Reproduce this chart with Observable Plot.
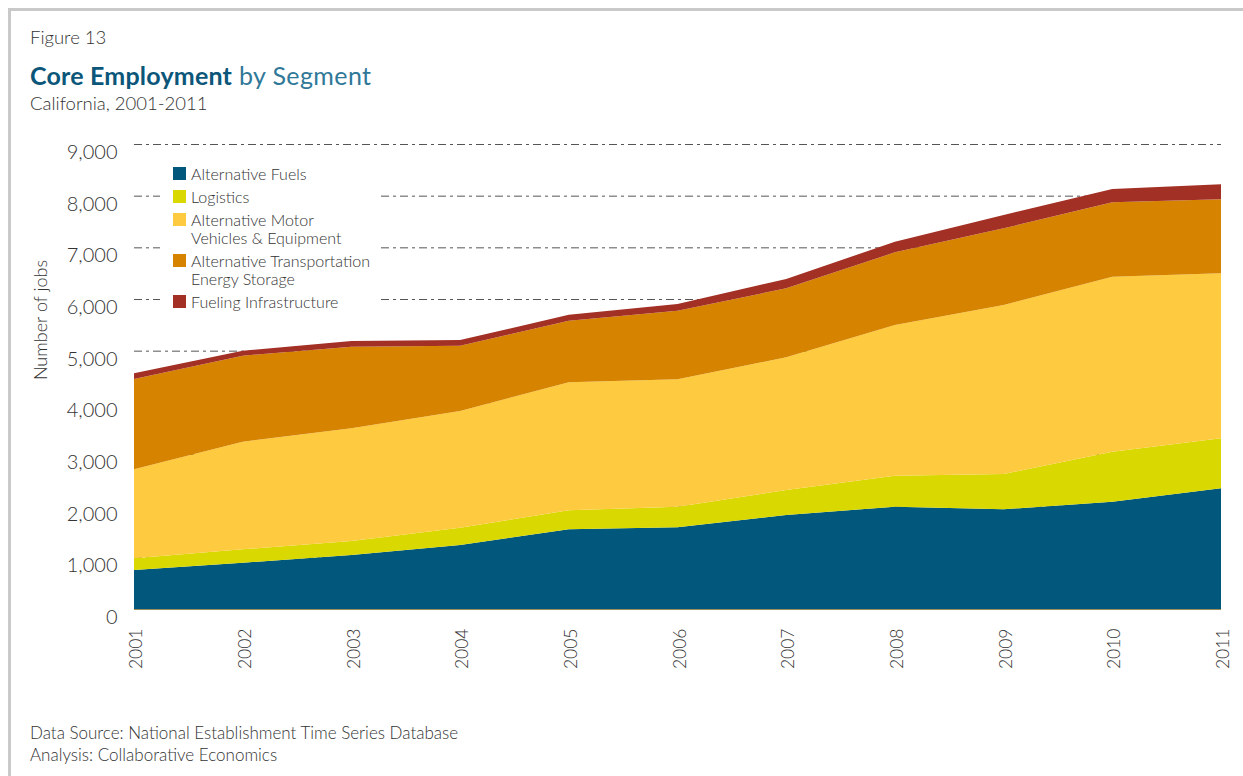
<!DOCTYPE html>
<html>
<head>
<meta charset="utf-8">
<script src="https://cdn.jsdelivr.net/npm/d3@7"></script>
<script src="https://cdn.jsdelivr.net/npm/@observablehq/plot@0.6"></script>
<style>
  body { margin: 0; background: #fff; font-family: Lato, "Noto Sans", sans-serif; font-weight: 300; color: #333; }
  #wrap { position: relative; width: 1243px; height: 776px; overflow: hidden; }
  #frameTop { position: absolute; left: 8px; top: 8px; width: 1235px; height: 3px; background: #c9c9c9; }
  #frameLeft { position: absolute; left: 8px; top: 8px; width: 3px; height: 768px; background: #c9c9c9; }
  #header { position: relative; height: 120px; }
  .t { position: absolute; left: 30px; white-space: nowrap; line-height: 1.2; }
  #fig { top: 26px; font-size: 18.5px; }
  #title { top: 60px; font-size: 25px; color: #2f7898; letter-spacing: 0.4px; font-weight: 400; }
  #title b { color: #0b5679; font-weight: 700; letter-spacing: 0.2px; }
  #sub { top: 92px; font-size: 18.5px; }
  #cap1 { top: 723px; font-size: 17px; }
  #cap2 { top: 745px; font-size: 17px; }
  #ylab { position: absolute; left: 41px; top: 320px; transform: translate(-50%, -50%) rotate(-90deg); font-size: 18px; white-space: nowrap; line-height: 1.2; }
  #legend { position: absolute; left: 160px; top: 160px; width: 220px; height: 153px; background: #fff; box-sizing: border-box; padding: 5px 0 0 13px; }
  .item { position: relative; padding-left: 18px; font-size: 16px; line-height: 18px; margin-bottom: 5px; color: #333; white-space: nowrap; }
  .sw { position: absolute; left: 0; top: 2px; width: 13px; height: 13px; }
  #chart svg { display: block; }
</style>
</head>
<body>
<div id="wrap">
  <div id="frameTop"></div>
  <div id="frameLeft"></div>
  <div id="header">
    <div class="t" id="fig">Figure 13</div>
    <div class="t" id="title"><b>Core Employment</b> by Segment</div>
    <div class="t" id="sub">California, 2001-2011</div>
  </div>
  <div id="chart"></div>
  <div id="ylab">Number of jobs</div>
  <div id="legend"></div>
  <div class="t" id="cap1">Data Source: National Establishment Time Series Database</div>
  <div class="t" id="cap2">Analysis: Collaborative Economics</div>
</div>
<script>
const years = [2001, 2002, 2003, 2004, 2005, 2006, 2007, 2008, 2009, 2010, 2011];
const segments = [
  "Alternative Fuels",
  "Logistics",
  "Alternative Motor Vehicles & Equipment",
  "Alternative Transportation Energy Storage",
  "Fueling Infrastructure"
];
const legendLines = [
  ["Alternative Fuels"],
  ["Logistics"],
  ["Alternative Motor", "Vehicles & Equipment"],
  ["Alternative Transportation", "Energy Storage"],
  ["Fueling Infrastructure"]
];
const colors = ["#02577c", "#d9d800", "#fdca40", "#d68400", "#a33024"];
const alternativeFuels   = [755, 896, 1045, 1239, 1545, 1581, 1819, 1980, 1929, 2077, 2336];
const logistics          = [226, 259, 271, 335, 365, 399, 484, 600, 684, 968, 967];
const motorVehicles      = [1723, 2083, 2181, 2258, 2480, 2465, 2568, 2916, 3270, 3387, 3194];
const energyStorage      = [1747, 1665, 1580, 1265, 1187, 1328, 1335, 1407, 1485, 1439, 1432];
const fuelingInfra       = [110, 96, 110, 109, 116, 130, 181, 206, 257, 258, 290];
const yTicks = [0, 1000, 2000, 3000, 4000, 5000, 6000, 7000, 8000, 9000];
const gridValues = [1000, 2000, 3000, 4000, 5000, 6000, 7000, 8000, 9000];

const series = [alternativeFuels, logistics, motorVehicles, energyStorage, fuelingInfra];
const data = [];
segments.forEach((s, i) => years.forEach((yr, j) => data.push({segment: s, year: yr, value: series[i][j]})));

const chart = Plot.plot({
  width: 1243,
  height: 560,
  marginLeft: 134,
  marginRight: 22,
  marginTop: 24,
  marginBottom: 71,
  style: {fontFamily: "Lato, 'Noto Sans', sans-serif", fontWeight: 300, color: "#333", background: "transparent"},
  x: {type: "linear", domain: [2001, 2011]},
  y: {domain: [0, 9000]},
  color: {domain: segments, range: colors},
  marks: [
    Plot.ruleY(gridValues, {stroke: "#555", strokeWidth: 1, strokeDasharray: "8,4,3,4"}),
    Plot.areaY(data, {x: "year", y: "value", fill: "segment", z: "segment"}),
    Plot.ruleY([0], {stroke: "#9c8c5c", strokeWidth: 1}),
    Plot.axisY({ticks: yTicks, tickSize: 0, tickPadding: 17, dy: 8, tickFormat: d3.format(","), fontSize: 20, fontWeight: 300, label: null}),
    Plot.axisX({ticks: years, tickSize: 0, tickPadding: 19, tickRotate: -90, tickFormat: "d", fontSize: 17.5, fontWeight: 300, dx: 2, label: null})
  ]
});
document.getElementById("chart").appendChild(chart);

const legend = document.getElementById("legend");
legendLines.forEach((lines, i) => {
  const it = document.createElement("div");
  it.className = "item";
  const sw = document.createElement("span");
  sw.className = "sw";
  sw.style.background = colors[i];
  it.appendChild(sw);
  lines.forEach((ln, k) => {
    if (k) it.appendChild(document.createElement("br"));
    it.appendChild(document.createTextNode(ln));
  });
  legend.appendChild(it);
});
</script>
</body>
</html>
